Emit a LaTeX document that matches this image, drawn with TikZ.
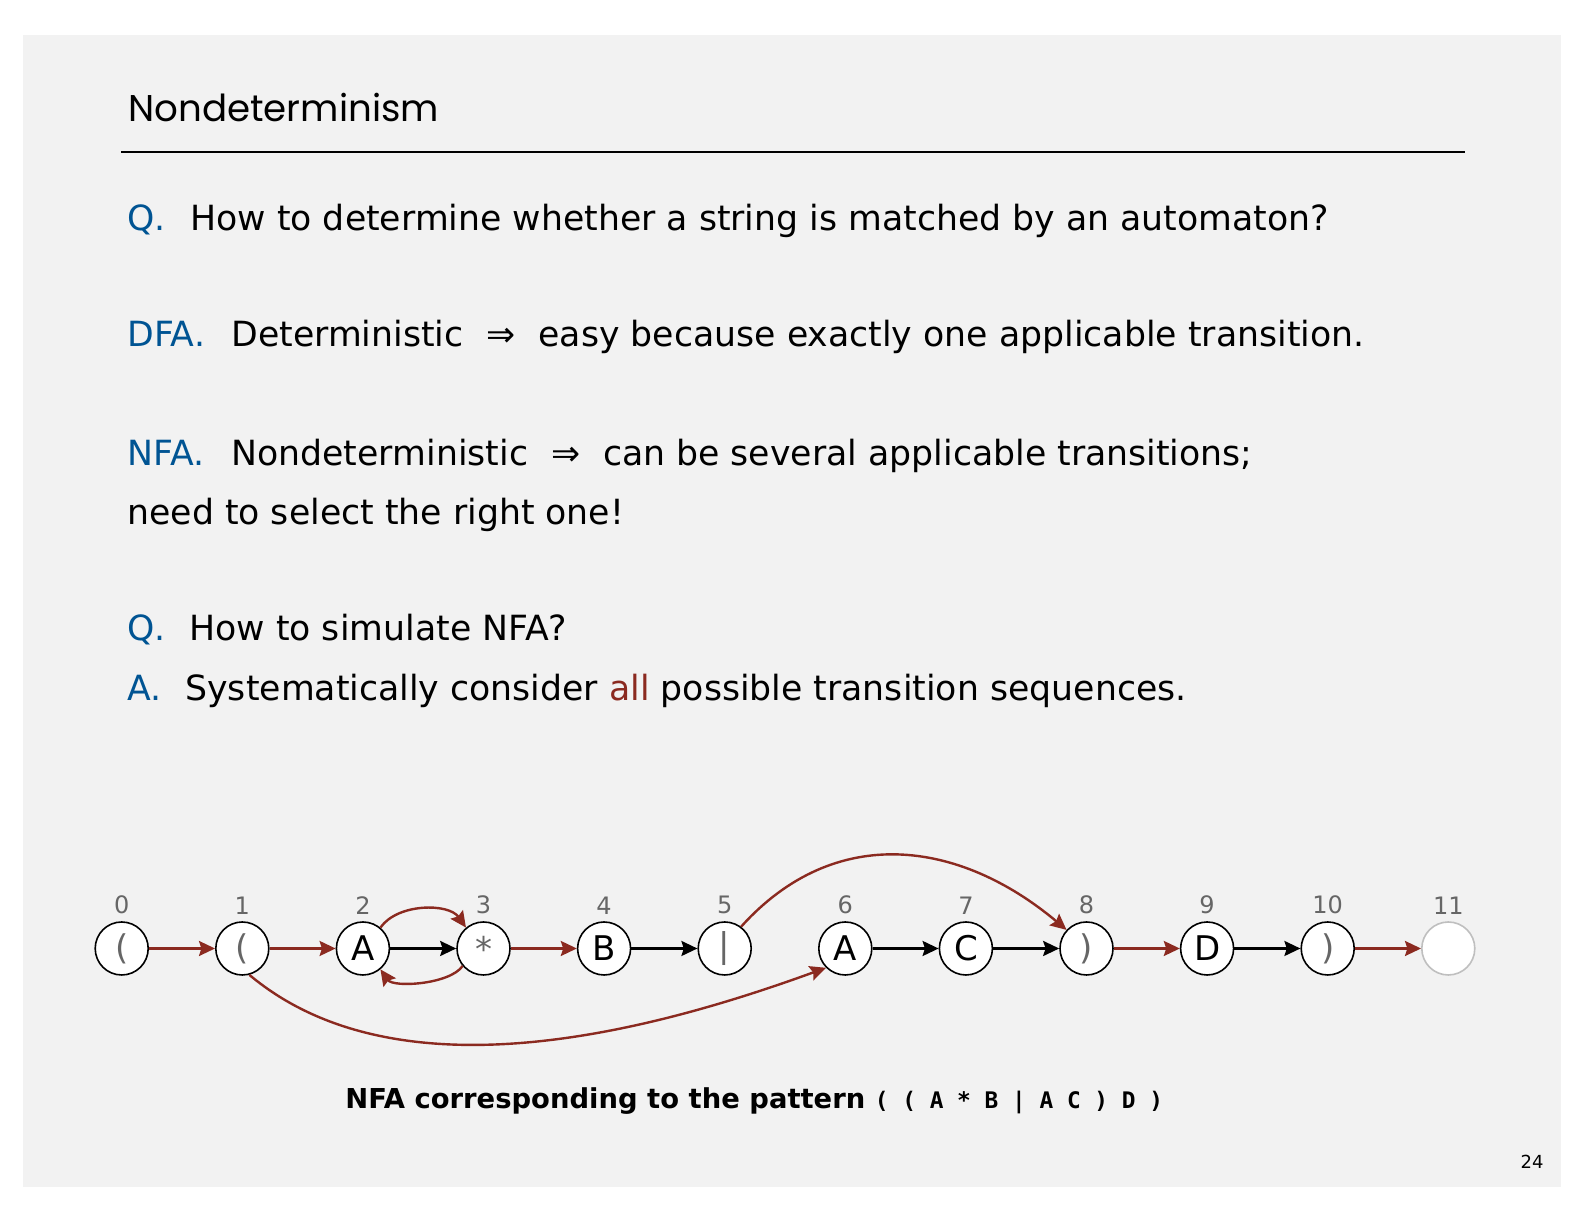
\documentclass[tikz,border=0pt]{standalone}
\usepackage{fontspec}
\setmainfont{DejaVu Sans}
\newfontfamily\titlefont{Poppins}
\newfontfamily\codefont{DejaVu Sans Mono}
\usetikzlibrary{arrows.meta}
\definecolor{slidebg}{RGB}{242,242,242}
\definecolor{qblue}{RGB}{0,84,147}
\definecolor{epsred}{RGB}{139,42,32}
\definecolor{idxgray}{RGB}{102,102,102}
\newcommand{\bodysize}{\fontsize{17.35}{20}\selectfont}

\begin{document}
\begin{tikzpicture}[x=0.5pt, y=0.5pt,
    state/.style={circle, draw, line width=0.8pt, fill=white, minimum size=26.5pt, inner sep=0pt,
                  font=\fontsize{17}{17}\selectfont, label distance=6pt},
    idx/.style={text=idxgray, font=\fontsize{12}{12}\selectfont},
    lbl/.style={anchor=base west, inner sep=0pt, text=qblue, font=\bodysize},
    body/.style={anchor=base west, inner sep=0pt, font=\bodysize},
    epsedge/.style={draw=epsred, line width=1.2pt, -{Stealth[length=8pt,width=7.5pt,inset=1.2pt]}},
    matchedge/.style={draw=black, line width=1.2pt, -{Stealth[length=8pt,width=7.5pt,inset=1.2pt]}}]

    \useasboundingbox (0,0) rectangle (1584,1224);
    \fill[white] (0,0) rectangle (1584,1224);
    \fill[slidebg] (23,37) rectangle (1561,1189);

    % Title
    \node[anchor=base west, inner sep=0pt] (title) at (128,1102) {\titlefont\fontsize{18.6}{19}\selectfont Nondeterminism};
    \draw[line width=0.8pt] (121,1072) -- (1465,1072);

    % Text
    \node[lbl] (q1) at (127,993.3) {Q.};
    \node[body] (q1txt) at (190,993.3) {How to determine whether a string is matched by an automaton?};

    \node[lbl] (dfa) at (127,877.2) {DFA.};
    \node[body] (dfatxt) at (231,877.2) {Deterministic\hspace{11.5pt}⇒\hspace{11.5pt}easy because exactly one applicable transition.};

    \node[lbl] (nfa) at (127,758.5) {NFA.};
    \node[body] (nfatxt) at (231,758.5) {Nondeterministic\hspace{11.5pt}⇒\hspace{11.5pt}can be several applicable transitions;};
    \node[body] (nfatxt2) at (127,699) {need to select the right one!};

    \node[lbl] (q2) at (127,583) {Q.};
    \node[body] (q2txt) at (189,583) {How to simulate NFA?};

    \node[lbl] (a2) at (127,523.5) {A.};
    \node[body] (a2txt) at (185,523.5) {Systematically consider \textcolor{epsred}{all} possible transition sequences.};

    % NFA states
    \node[state, label={[idx]above:0}] (s0) at (121.7,275.5) {\textcolor{idxgray}{(}};
    \node[state, label={[idx]above:1}] (s1) at (242.3,275.5) {\textcolor{idxgray}{(}};
    \node[state, label={[idx]above:2}] (s2) at (362.9,275.5) {A};
    \node[state, label={[idx]above:3}] (s3) at (483.5,275.5) {\textcolor{idxgray}{*}};
    \node[state, label={[idx]above:4}] (s4) at (604.1,275.5) {B};
    \node[state, label={[idx]above:5}] (s5) at (724.7,275.5) {\textcolor{idxgray}{|}};
    \node[state, label={[idx]above:6}] (s6) at (845.3,275.5) {A};
    \node[state, label={[idx]above:7}] (s7) at (965.9,275.5) {C};
    \node[state, label={[idx]above:8}] (s8) at (1086.5,275.5) {\textcolor{idxgray}{)}};
    \node[state, label={[idx]above:9}] (s9) at (1207.1,275.5) {D};
    \node[state, label={[idx]above:10}] (s10) at (1327.7,275.5) {\textcolor{idxgray}{)}};
    \node[state, draw=black!25, label={[idx]above:11}] (s11) at (1448.3,275.5) {};

    % Transitions
    \draw[epsedge] (s0) -- (s1);
    \draw[epsedge] (s1) -- (s2);
    \draw[matchedge] (s2) -- (s3);
    \draw[epsedge] (s3) -- (s4);
    \draw[matchedge] (s4) -- (s5);
    \draw[matchedge] (s6) -- (s7);
    \draw[matchedge] (s7) -- (s8);
    \draw[epsedge] (s8) -- (s9);
    \draw[matchedge] (s9) -- (s10);
    \draw[epsedge] (s10) -- (s11);
    \draw[epsedge] (s2.50) to[out=55, in=125, looseness=0.9] (s3.130);
    \draw[epsedge] (s3.-140) to[out=-125, in=-55, looseness=0.7] (s2.-50);
    \draw[epsedge] (s1.-75) to[out=-40, in=-160, looseness=0.85] (s6.-135);
    \draw[epsedge] (s5.53) to[out=48, in=140, looseness=1.1] (s8.137);

    % Caption
    \node[anchor=base west, inner sep=0pt] (caption) at (345,115)
        {\bfseries\fontsize{13.7}{14}\selectfont NFA corresponding to the pattern \codefont\fontsize{11.4}{12}\selectfont( ( A * B | A C ) D )};
    \node[anchor=base east, inner sep=0pt] (pageno) at (1544,55) {\fontsize{9}{9}\selectfont 24};
\end{tikzpicture}
\end{document}
